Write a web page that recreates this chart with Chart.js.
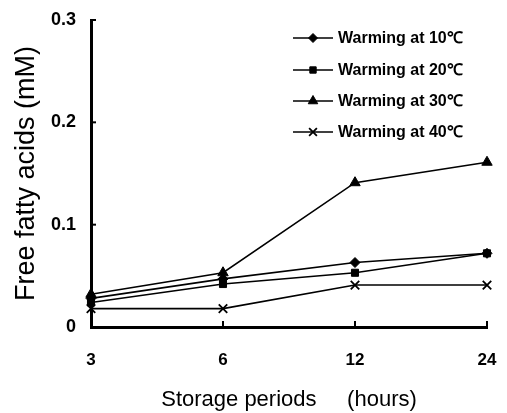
<!DOCTYPE html>
<html>
<head>
<meta charset="utf-8">
<script src="https://cdn.jsdelivr.net/npm/chart.js@4.4.0/dist/chart.umd.min.js"></script>
<style>
html,body{margin:0;padding:0;background:#fff;}
#wrap{width:507px;height:413px;}
</style>
</head>
<body>
<div id="wrap"><canvas id="c" width="507" height="413"></canvas></div>
<script>
const categories = ['3', '6', '12', '24'];
const seriesNames = ['Warming at 10\u2103', 'Warming at 20\u2103', 'Warming at 30\u2103', 'Warming at 40\u2103'];
const warming10 = [0.028, 0.047, 0.063, 0.072];
const warming20 = [0.024, 0.042, 0.053, 0.072];
const warming30 = [0.032, 0.053, 0.141, 0.161];
const warming40 = [0.018, 0.018, 0.041, 0.041];
const yTicks = [0, 0.1, 0.2, 0.3];
const yTickLabels = ['0', '0.1', '0.2', '0.3'];

const styles = [
  {pointStyle: 'rectRot', pointRadius: 5},
  {pointStyle: 'rect', pointRadius: 5},
  {pointStyle: 'triangle', pointRadius: 6},
  {pointStyle: 'crossRot', pointRadius: 6}
];
const seriesValues = [warming10, warming20, warming30, warming40];

const datasets = seriesValues.map((vals, i) => ({
  label: seriesNames[i],
  data: vals,
  borderColor: '#000',
  backgroundColor: '#000',
  borderWidth: 1.6,
  pointStyle: styles[i].pointStyle,
  pointRadius: styles[i].pointRadius,
  pointBorderWidth: i === 3 ? 1.8 : 1,
  pointBackgroundColor: '#000',
  pointBorderColor: '#000',
  tension: 0
}));

const inwardTicks = {
  id: 'inwardTicks',
  afterDraw(chart) {
    const ctx = chart.ctx;
    const x = chart.scales.x, y = chart.scales.y;
    ctx.save();
    ctx.strokeStyle = '#000';
    ctx.lineWidth = 2;
    yTicks.forEach(v => {
      const py = y.getPixelForValue(v);
      ctx.beginPath();
      ctx.moveTo(x.left, py);
      ctx.lineTo(x.left + 5, py);
      ctx.stroke();
    });
    categories.forEach((c, i) => {
      const px = x.getPixelForValue(i);
      ctx.beginPath();
      ctx.moveTo(px, y.bottom);
      ctx.lineTo(px, y.bottom - 6);
      ctx.stroke();
    });
    ctx.restore();
  }
};

const customLegend = {
  id: 'customLegend',
  afterDraw(chart) {
    const ctx = chart.ctx;
    const x0 = 293, x1 = 333, tx = 338;
    const rows = [38, 70, 101, 132];
    ctx.save();
    ctx.font = 'bold 16px "Liberation Sans", Arial, sans-serif';
    ctx.textBaseline = 'middle';
    chart.data.datasets.forEach((ds, i) => {
      const yy = rows[i];
      ctx.strokeStyle = '#000';
      ctx.fillStyle = '#000';
      ctx.lineWidth = 1.6;
      ctx.beginPath();
      ctx.moveTo(x0, yy);
      ctx.lineTo(x1, yy);
      ctx.stroke();
      ctx.lineWidth = ds.pointBorderWidth;
      Chart.helpers.drawPoint(ctx, {pointStyle: ds.pointStyle, radius: ds.pointRadius - 0.5, borderWidth: ds.pointBorderWidth, rotation: 0}, 313, yy);
      ctx.fillStyle = '#000';
      ctx.fillText(ds.label, tx, yy + 1);
    });
    ctx.restore();
  }
};

new Chart(document.getElementById('c'), {
  type: 'line',
  data: {labels: categories, datasets},
  options: {
    responsive: false,
    animation: false,
    layout: {padding: {top: 20, right: 20, left: 0, bottom: 0}},
    plugins: {legend: {display: false}, tooltip: {enabled: false}},
    scales: {
      x: {
        type: 'category',
        offset: false,
        grid: {display: false, drawTicks: false},
        border: {display: true, color: '#000', width: 3},
        ticks: {color: '#000', padding: 23, font: {family: '"Liberation Sans", Arial, sans-serif', size: 17, weight: 'bold'}},
        title: {display: true, text: 'Storage periods\u00a0\u00a0\u00a0\u00a0 (hours)', color: '#000', padding: {top: 14, bottom: 0}, font: {family: '"Liberation Sans", Arial, sans-serif', size: 22}},
        afterFit(s) { s.height = 86; s.paddingRight = 0; s.paddingLeft = 0; }
      },
      y: {
        min: 0, max: 0.3,
        afterBuildTicks(s) { s.ticks = yTicks.map(v => ({value: v})); },
        grid: {display: false, drawTicks: false},
        border: {display: true, color: '#000', width: 3},
        ticks: {color: '#000', padding: 15, callback: (v, i) => yTickLabels[i], font: {family: '"Liberation Sans", Arial, sans-serif', size: 18, weight: 'bold'}},
        title: {display: true, text: 'Free fatty acids (mM)', color: '#000', padding: {top: 10, bottom: 0}, font: {family: '"Liberation Sans", Arial, sans-serif', size: 27}},
        afterFit(s) { s.width = 91; s.paddingTop = 0; s.paddingBottom = 0; }
      }
    }
  },
  plugins: [inwardTicks, customLegend]
});
</script>
</body>
</html>
